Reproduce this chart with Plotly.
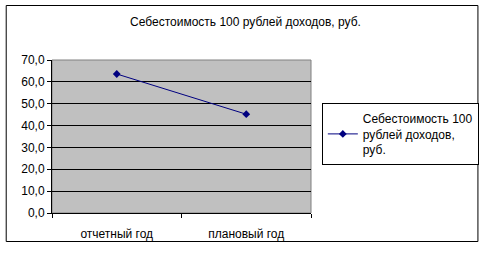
import plotly.graph_objects as go

categories = ["отчетный год", "плановый год"]
values = [63.6, 45.2]
series_name = "Себестоимость 100<br>рублей доходов,<br>руб."
title_text = "Себестоимость 100 рублей доходов, руб."

W, H = 491, 257
L, R, T, B = 52, 315, 60, 213
pw, ph = R - L, B - T

def px_x(x):
    return (x - L) / pw

def px_y(y):
    return (B - y) / ph

fig = go.Figure()
fig.add_trace(go.Scatter(
    x=categories, y=values, mode="lines+markers", name=series_name,
    line=dict(color="#000080", width=1),
    marker=dict(symbol="diamond", size=6, color="#000080"),
))

fig.update_layout(
    width=W, height=H,
    margin=dict(l=L, r=W - R, t=T, b=H - B, pad=0),
    paper_bgcolor="white", plot_bgcolor="#C0C0C0",
    font=dict(family="Liberation Sans, Arial, sans-serif", size=12, color="black"),
    separators=", ",
    title=dict(text=title_text, x=0.5, xanchor="center", y=1 - 22 / H, yanchor="middle",
               font=dict(size=12)),
    showlegend=True,
    legend=dict(x=px_x(326), y=px_y(103), xanchor="left", yanchor="top",
                bordercolor="black", borderwidth=1, bgcolor="white",
                font=dict(size=12), itemwidth=30, tracegroupgap=0),
    xaxis=dict(type="category", range=[-0.5, 1.5], tickson="boundaries",
               ticks="outside", ticklen=4, ticklabelstandoff=10,
               tickcolor="black", showline=True, linecolor="black", linewidth=1,
               showgrid=False, zeroline=False, fixedrange=True),
    yaxis=dict(range=[0, 70], dtick=10, tickformat=".1f", ticks="outside", ticklen=4,
               tickcolor="black", showline=True, linecolor="black", linewidth=1,
               showgrid=True, gridcolor="black", gridwidth=1, zeroline=False,
               fixedrange=True),
)

# plot-area border (gray, top & right)
fig.add_shape(type="rect", xref="paper", yref="paper", x0=0, x1=1, y0=0, y1=1,
              line=dict(color="#808080", width=1), layer="below")
# outer chart border
fig.add_shape(type="rect", xref="paper", yref="paper",
              x0=px_x(5.5), x1=px_x(484.5), y0=px_y(241.5), y1=px_y(5.5),
              line=dict(color="black", width=1))

fig.write_html("out.html")
